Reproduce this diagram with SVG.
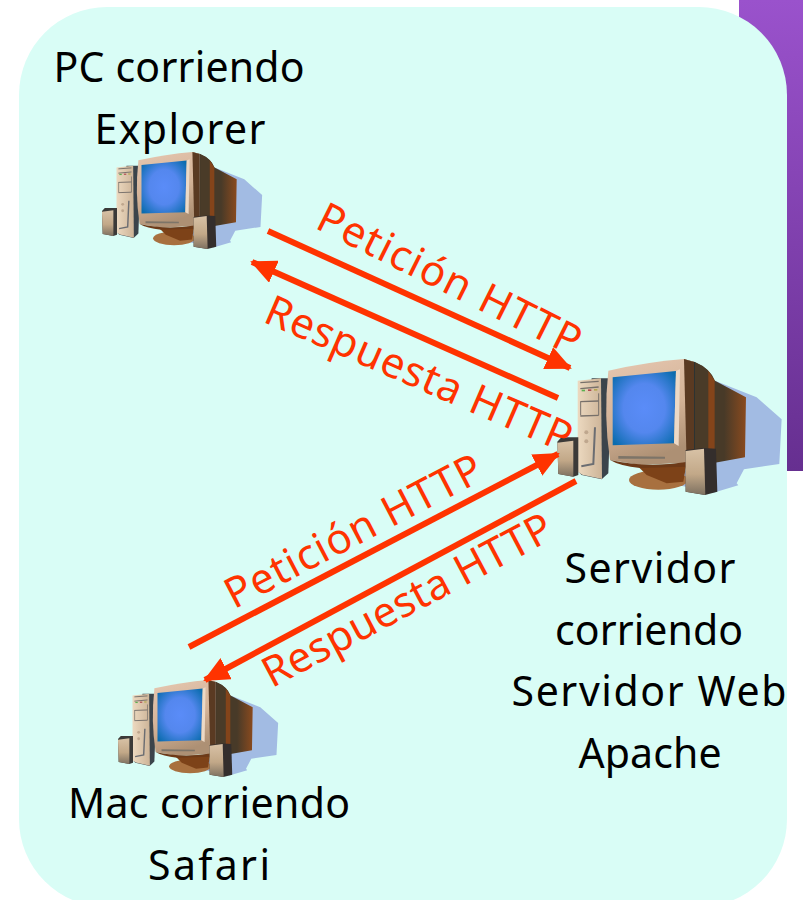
<svg xmlns="http://www.w3.org/2000/svg" width="803" height="900" viewBox="0 0 803 900">
<style>
.t{font-family:"Noto Sans","DejaVu Sans",sans-serif;font-size:41px;fill:#000;text-anchor:middle}
.r{font-family:"Noto Sans","DejaVu Sans",sans-serif;font-size:42px;fill:#ff3300;text-anchor:middle}
.a{fill:none;stroke:#ff3300;stroke-width:6;marker-end:url(#ah)}
</style>
<defs>
<linearGradient id="pg" x1="0" y1="0" x2="0" y2="1"><stop offset="0" stop-color="#9a52cc"/><stop offset="1" stop-color="#662f90"/></linearGradient>
<radialGradient id="scr" cx="0.5" cy="0.5" r="0.66"><stop offset="0" stop-color="#5a8cf8"/><stop offset="0.5" stop-color="#5487ee"/><stop offset="1" stop-color="#0a6cae"/></radialGradient>
<linearGradient id="bez" x1="0" y1="0" x2="0.3" y2="1"><stop offset="0" stop-color="#e6c8b2"/><stop offset="0.6" stop-color="#d3b296"/><stop offset="1" stop-color="#ad9074"/></linearGradient>
<linearGradient id="tow" x1="0" y1="0" x2="1" y2="0"><stop offset="0" stop-color="#ecd9c0"/><stop offset="1" stop-color="#cdb498"/></linearGradient>
<linearGradient id="spk" x1="0" y1="0" x2="0" y2="1"><stop offset="0" stop-color="#d8c2a6"/><stop offset="0.55" stop-color="#c2a888"/><stop offset="1" stop-color="#7d7060"/></linearGradient>
<linearGradient id="back" x1="0" y1="0" x2="1" y2="0"><stop offset="0" stop-color="#483a28"/><stop offset="0.65" stop-color="#483a28"/><stop offset="1" stop-color="#8a4a1e"/></linearGradient>
<marker id="ah" markerUnits="userSpaceOnUse" markerWidth="26" markerHeight="24" refX="24" refY="12" orient="auto"><path d="M0 0L26 12L0 24z" fill="#ff3300"/></marker>
<g id="pc">
<path d="M525 122L650 172L725 238L718 372L612 388L590 430L595 436L520 458L300 410L520 380z" fill="#a2bbe3"/>
<ellipse cx="355" cy="420" rx="88" ry="29" fill="#a8703f"/>
<path d="M295 380L440 370L430 425L380 430L320 405z" fill="#7d4218"/>
<path d="M155 115L215 115L205 400L185 418L125 405L115 395z" fill="#3b444b"/>
<path d="M113 122L183 115L186 417L127 404L113 395z" fill="url(#tow)"/>
<path d="M121 128L176 124M121 146L176 141M121 185L176 183M121 228L176 226" stroke="#77706a" stroke-width="4" fill="none"/>
<path d="M122 185L122 226M176 160L176 226" stroke="#77706a" stroke-width="3" fill="none"/>
<path d="M165 262L160 372L124 379" stroke="#6b6d72" stroke-width="6" fill="none"/>
<circle cx="139" cy="277" r="6" fill="#bfa78e"/><circle cx="139" cy="304" r="6" fill="#bfa78e"/>
<rect x="125" y="149" width="10" height="5" fill="#5cb050"/><rect x="144" y="148" width="10" height="5" fill="#b04b50"/><rect x="162" y="147" width="10" height="5" fill="#b5a850"/>
<path d="M430 57L465 66Q510 85 525 122L618 172L615 352L525 368L440 380L430 370z" fill="url(#back)"/>
<path d="M462 66Q510 85 522 122L522 368L462 330z" fill="#4a3b28"/>
<path d="M505 92L524 122L524 368L505 372z" fill="#84441a"/>
<path d="M462 66L462 330" stroke="#1d3038" stroke-width="4" fill="none"/>
<path d="M205 92Q320 66 432 57L462 66L462 330L440 368L300 375L210 360Q190 230 205 92z" fill="url(#bez)"/>
<path d="M432 57L462 66L462 330L440 368z" fill="#5a3a22"/>
<path d="M218 112L408 93L402 310L218 316z" fill="url(#scr)"/>
<path d="M408 93L420 88L416 318L402 310z" fill="#ecd9c6"/>
<path d="M235 348L375 350L375 356L235 356z" fill="#7d7468"/>
<path d="M210 360Q320 385 440 366L438 380L300 384Q240 378 210 360z" fill="#6d3a18"/>
<path d="M437 330L490 324L528 326L532 455L495 465L437 455z" fill="#342e2c"/>
<path d="M437 333L492 326L496 465L437 455z" fill="url(#spk)"/>
<path d="M52 305L64 292L115 292L115 405L100 410L55 402z" fill="#3b3a38"/>
<path d="M52 308L100 302L100 410L55 402z" fill="url(#spk)"/>
</g>
</defs>
<rect x="739" y="0" width="64" height="471" fill="url(#pg)"/>
<rect x="19" y="7" width="768" height="900" rx="88" ry="88" fill="#d9fdf6"/>
<g id="pc-explorer"><use href="#pc" transform="translate(89.6 138.4) scale(.238)"/>
<text class="t" x="179" y="82" textLength="251">PC corriendo</text><text class="t" x="180" y="144" textLength="171">Explorer</text></g>
<g id="server-apache"><use href="#pc" transform="translate(540 340) scale(.3333)"/>
<text class="t" x="650" y="583" textLength="171">Servidor</text><text class="t" x="649" y="645" textLength="188">corriendo</text><text class="t" x="649" y="706" textLength="275">Servidor Web</text><text class="t" x="650" y="768" textLength="143">Apache</text></g>
<g id="mac-safari"><use href="#pc" transform="translate(105.6 666.4) scale(.238)"/>
<text class="t" x="209" y="818" textLength="282">Mac corriendo</text><text class="t" x="209" y="880" textLength="122">Safari</text></g>
<g id="connectors">
<path class="a" d="M268 231L570 368"/>
<path class="a" d="M558 398L252 262"/>
<path class="a" d="M189 647L558 454"/>
<path class="a" d="M576 481L205 680"/>
</g>
<g id="labels">
<text class="r" transform="translate(443 292) rotate(26.5)" textLength="289">Petición HTTP</text>
<text class="r" transform="translate(413 387) rotate(23.5)" textLength="330">Respuesta HTTP</text>
<text class="r" transform="translate(360 544) rotate(-27.5)" textLength="284">Petición HTTP</text>
<text class="r" transform="translate(414 613) rotate(-28)" textLength="322">Respuesta HTTP</text>
</g>
</svg>
